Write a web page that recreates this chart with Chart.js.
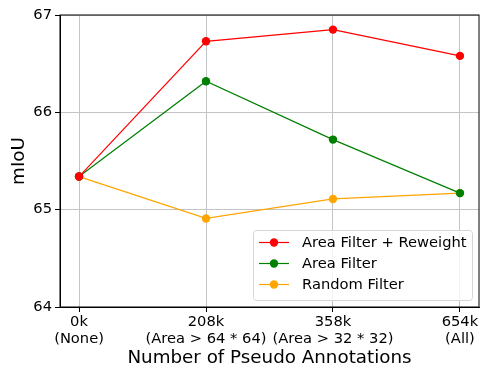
<!DOCTYPE html>
<html>
<head>
<meta charset="utf-8">
<script src="https://cdn.jsdelivr.net/npm/chart.js@4"></script>
<style>
  html, body { margin: 0; padding: 0; background: #fff; }
  canvas { display: block; }
</style>
</head>
<body>
<canvas id="chart" width="480" height="366"></canvas>
<script>
const categories = [['0k', '(None)'], ['208k', '(Area > 64 * 64)'], ['358k', '(Area > 32 * 32)'], ['654k', '(All)']];
const reweight = [65.34, 66.73, 66.85, 66.58];
const areaFilter = [65.34, 66.32, 65.72, 65.17];
const randomFilter = [65.34, 64.91, 65.11, 65.17];
const yTicks = [64, 65, 66, 67];

const font = 'DejaVu Sans';
const gridColor = '#c4c4c4';

function series(label, values, color) {
  return {
    label: label,
    data: values.map((v, i) => ({ x: i, y: v })),
    borderColor: color,
    backgroundColor: color,
    borderWidth: 1.2,
    pointRadius: 4.2,
    pointHoverRadius: 4.2,
    pointBorderWidth: 0,
    tension: 0
  };
}

// black frame around the plot and the legend box inside it
const framePlugin = {
  id: 'frame',
  afterDraw(chart) {
    const { ctx, chartArea: a } = chart;
    ctx.save();
    ctx.strokeStyle = '#000';
    ctx.lineWidth = 1;
    ctx.strokeRect(a.left, a.top, a.right - a.left, a.bottom - a.top);

    const bx = 253.5, by = 230.5, bw = 219, bh = 70;
    ctx.beginPath();
    ctx.roundRect(bx, by, bw, bh, 3);
    ctx.fillStyle = 'rgba(255,255,255,0.8)';
    ctx.fill();
    ctx.strokeStyle = '#d6d6d6';
    ctx.stroke();

    ctx.font = '14.7px "' + font + '"';
    ctx.textBaseline = 'middle';
    chart.data.datasets.forEach((ds, i) => {
      const y = 242.5 + i * 21;
      ctx.strokeStyle = ds.borderColor;
      ctx.lineWidth = 1.2;
      ctx.beginPath();
      ctx.moveTo(259, y);
      ctx.lineTo(289, y);
      ctx.stroke();
      ctx.fillStyle = ds.borderColor;
      ctx.beginPath();
      ctx.arc(274, y, 4.2, 0, Math.PI * 2);
      ctx.fill();
      ctx.fillStyle = '#000';
      ctx.fillText(ds.label, 302, y + 1);
    });
    ctx.restore();
  }
};

new Chart(document.getElementById('chart'), {
  type: 'line',
  data: {
    datasets: [
      series('Area Filter + Reweight', reweight, '#ff0000'),
      series('Area Filter', areaFilter, '#008000'),
      series('Random Filter', randomFilter, '#ffa500')
    ]
  },
  options: {
    responsive: false,
    animation: false,
    events: [],
    layout: { padding: { top: 15, right: 1, left: 0, bottom: 0 } },
    plugins: { legend: { display: false }, tooltip: { enabled: false } },
    scales: {
      x: {
        type: 'linear',
        min: -0.15,
        max: 3.15,
        afterBuildTicks: s => { s.ticks = categories.map((c, i) => ({ value: i })); },
        afterFit: s => { s.height = 59; s.paddingLeft = 0; s.paddingRight = 0; },
        grid: { color: gridColor, lineWidth: 1, tickColor: '#000', tickLength: 5 },
        border: { color: '#000', width: 1 },
        ticks: {
          color: '#000',
          font: { family: font, size: 14.7, lineHeight: 1.15 },
          padding: 2,
          maxRotation: 0,
          autoSkip: false,
          callback: v => categories[v]
        },
        title: {
          display: true,
          text: 'Number of Pseudo Annotations',
          color: '#000',
          font: { family: font, size: 18.3 },
          padding: { top: 0, bottom: -3 }
        }
      },
      y: {
        min: 64,
        max: 67,
        afterBuildTicks: s => { s.ticks = yTicks.map(v => ({ value: v })); },
        afterFit: s => { s.width = 60; },
        grid: { color: gridColor, lineWidth: 1, tickColor: '#000', tickLength: 5 },
        border: { color: '#000', width: 1 },
        ticks: {
          color: '#000',
          font: { family: font, size: 14.7 },
          padding: 3
        },
        title: {
          display: true,
          text: 'mIoU',
          color: '#000',
          font: { family: font, size: 18.3 },
          padding: { top: 8, bottom: 4 }
        }
      }
    }
  },
  plugins: [framePlugin, {
    id: 'fixArea',
    afterLayout(chart) {
      // pin the plot box to where the reference has it
      const x = chart.scales.x;
      x.left = 60; x.right = 479; x.width = 419;
      x.configure();
      chart.chartArea.right = 479;
    }
  }]
});
</script>
</body>
</html>
